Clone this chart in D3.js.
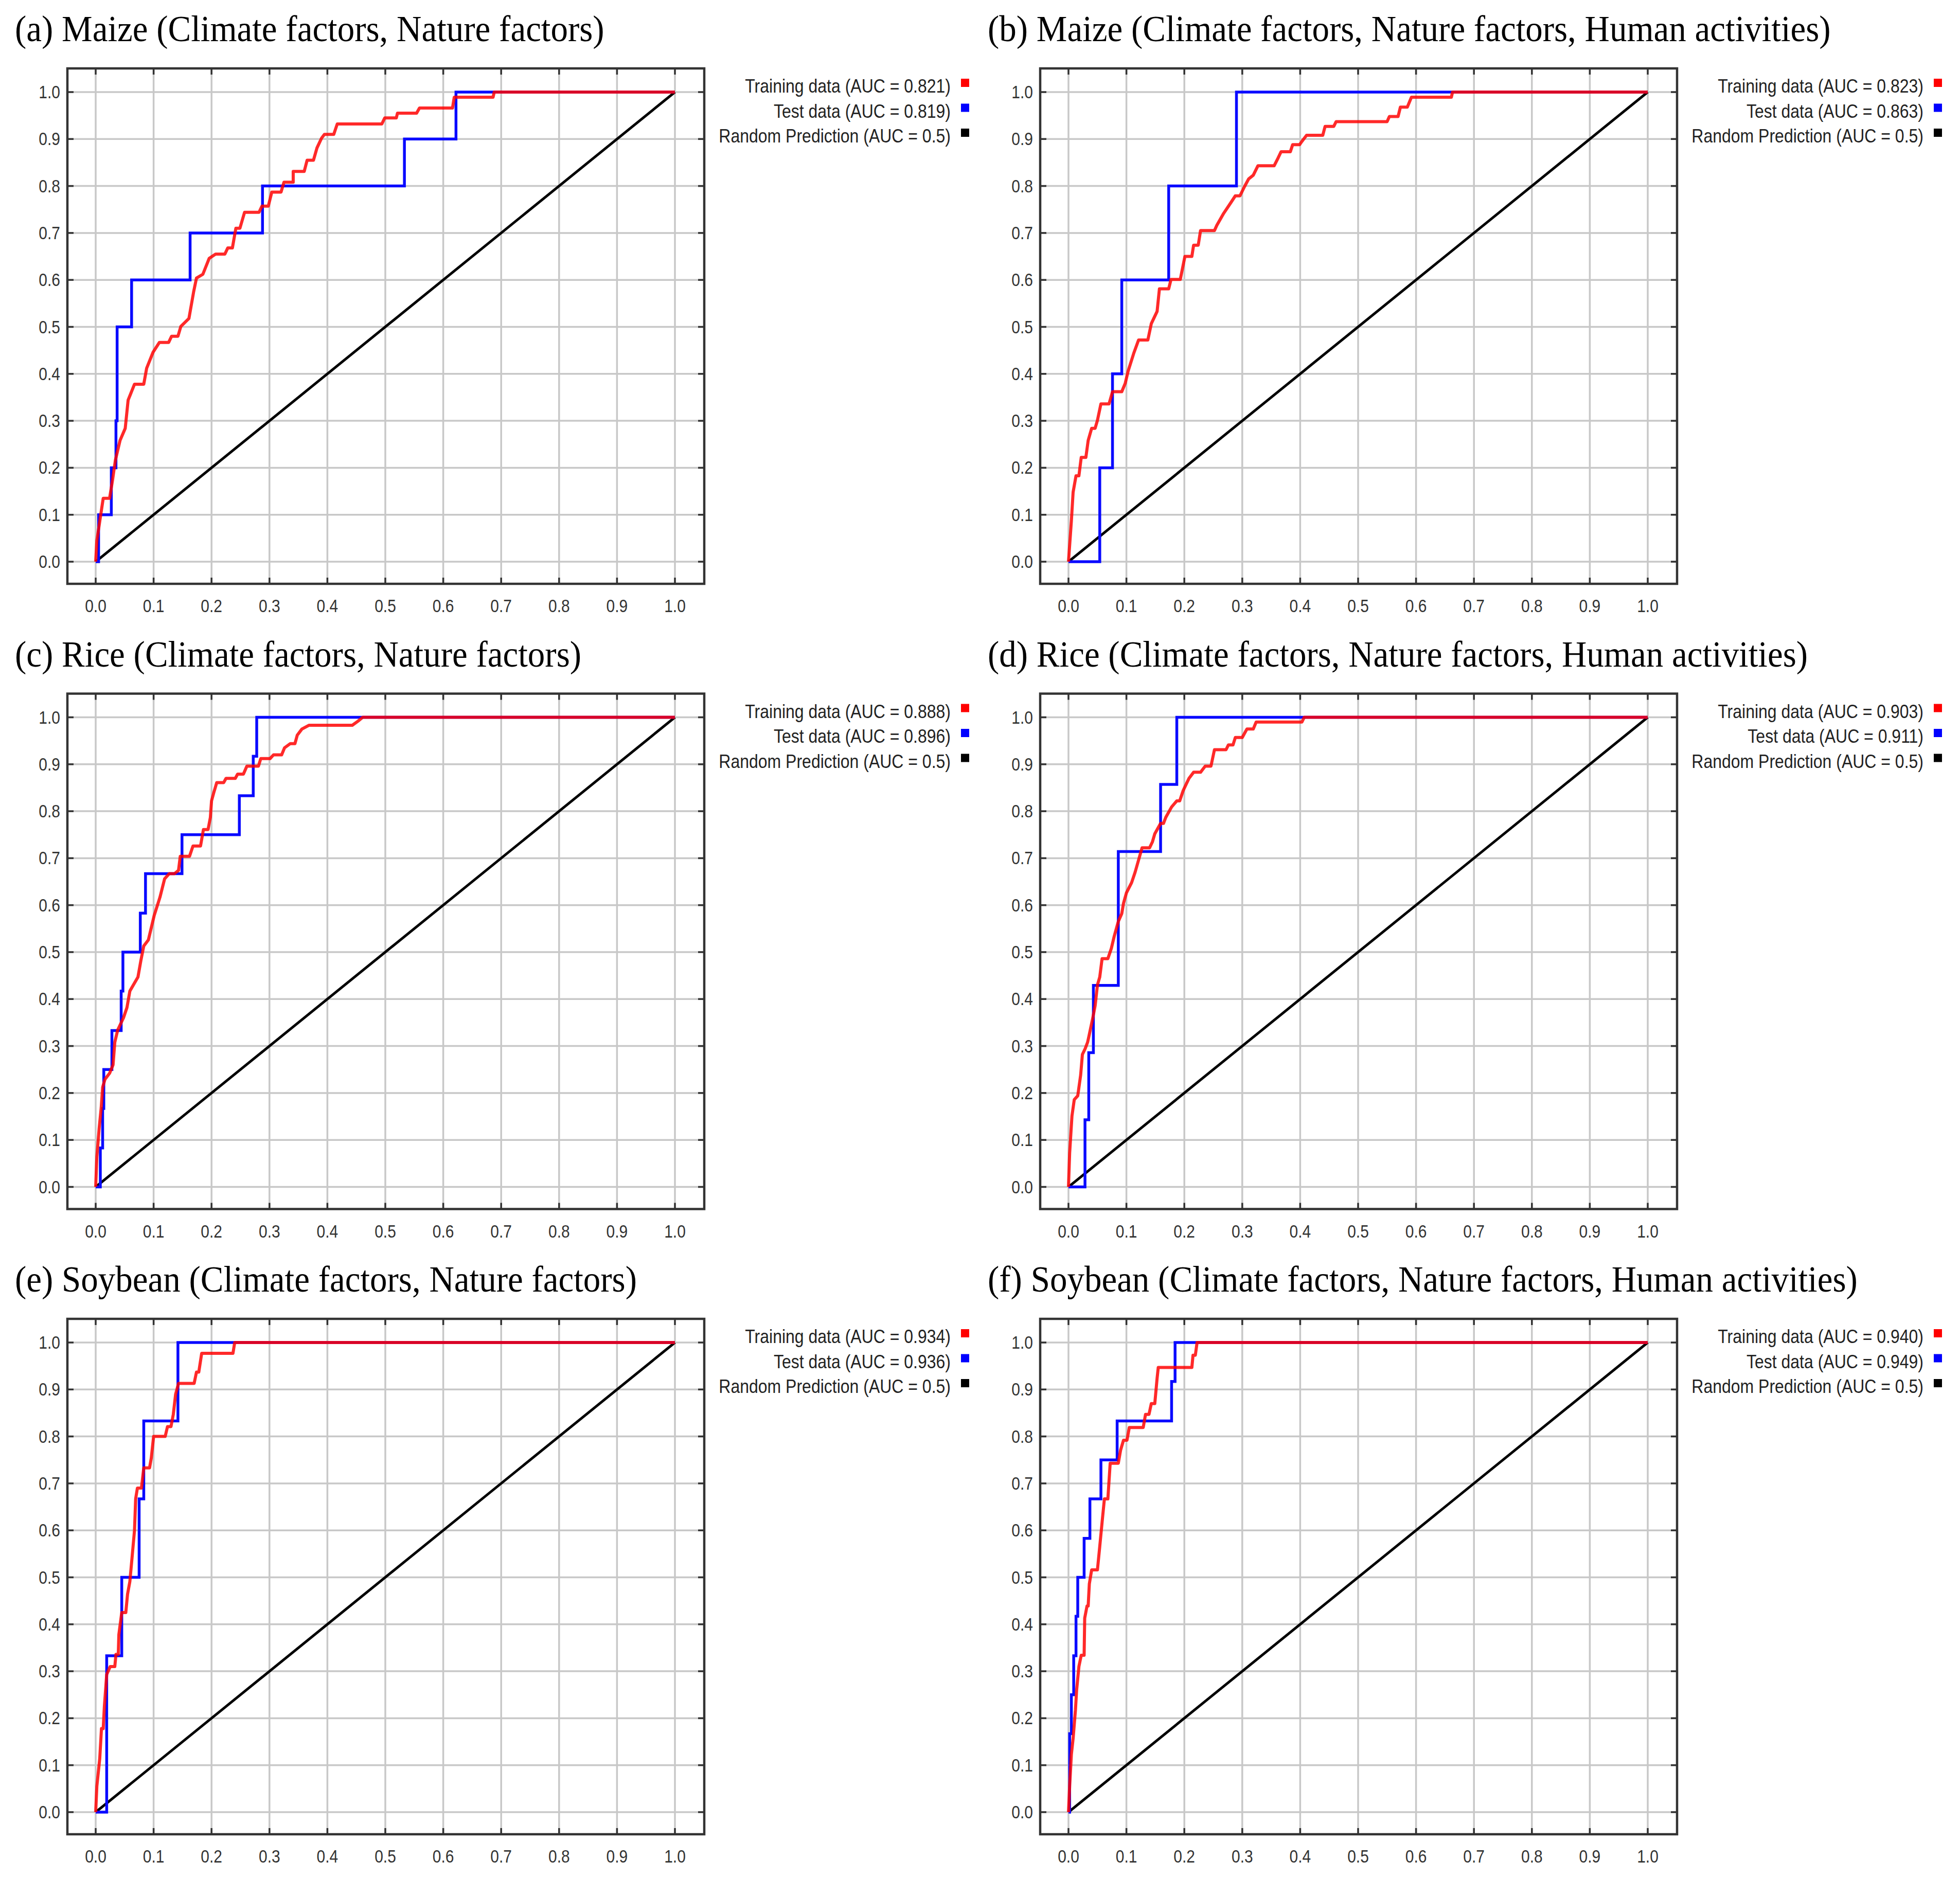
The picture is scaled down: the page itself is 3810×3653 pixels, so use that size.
<!DOCTYPE html>
<html>
<head>
<meta charset="utf-8">
<script src="https://cdn.jsdelivr.net/npm/d3@7"></script>
<style>
  html, body { margin: 0; padding: 0; background: #fff; }
  svg { display: block; }
</style>
</head>
<body>
<svg id="chart" width="3810" height="3653"></svg>
<script>
// ---------------- DATA ----------------
const panelTitles = [
  "(a) Maize (Climate factors, Nature factors)",
  "(b) Maize (Climate factors, Nature factors, Human activities)",
  "(c) Rice (Climate factors, Nature factors)",
  "(d) Rice (Climate factors, Nature factors, Human activities)",
  "(e) Soybean (Climate factors, Nature factors)",
  "(f) Soybean (Climate factors, Nature factors, Human activities)"
];
const trainingAUC = ["0.821", "0.823", "0.888", "0.903", "0.934", "0.940"];
const testAUC     = ["0.819", "0.863", "0.896", "0.911", "0.936", "0.949"];
const randomAUC   = "0.5";
const tickValues  = [0, 0.1, 0.2, 0.3, 0.4, 0.5, 0.6, 0.7, 0.8, 0.9, 1.0];
const randomLine  = [[0, 0], [1, 1]];

// Test data ROC curves (1 - specificity, sensitivity)
const testA = [[0,0],[0.005,0],[0.005,0.1],[0.027,0.1],[0.027,0.2],[0.035,0.2],[0.035,0.3],[0.037,0.3],[0.037,0.5],[0.062,0.5],[0.062,0.6],[0.163,0.6],[0.163,0.7],[0.288,0.7],[0.288,0.8],[0.533,0.8],[0.533,0.9],[0.622,0.9],[0.622,1.0],[1,1]];
const testB = [[0,0],[0.054,0],[0.054,0.2],[0.076,0.2],[0.076,0.4],[0.092,0.4],[0.092,0.6],[0.173,0.6],[0.173,0.8],[0.290,0.8],[0.290,1.0],[1,1]];
const testC = [[0,0],[0.008,0],[0.008,0.083],[0.012,0.083],[0.012,0.167],[0.014,0.167],[0.014,0.25],[0.028,0.25],[0.028,0.333],[0.044,0.333],[0.044,0.417],[0.047,0.417],[0.047,0.5],[0.077,0.5],[0.077,0.583],[0.086,0.583],[0.086,0.667],[0.149,0.667],[0.149,0.75],[0.248,0.75],[0.248,0.833],[0.272,0.833],[0.272,0.917],[0.278,0.917],[0.278,1.0],[1,1]];
const testD = [[0,0],[0.0285,0],[0.0285,0.143],[0.035,0.143],[0.035,0.286],[0.043,0.286],[0.043,0.429],[0.086,0.429],[0.086,0.714],[0.159,0.714],[0.159,0.857],[0.187,0.857],[0.187,1.0],[1,1]];
const testE = [[0,0],[0.019,0],[0.019,0.333],[0.045,0.333],[0.045,0.5],[0.075,0.5],[0.075,0.667],[0.083,0.667],[0.083,0.833],[0.142,0.833],[0.142,1.0],[1,1]];
const testF = [[0,0],[0.002,0],[0.002,0.167],[0.005,0.167],[0.005,0.25],[0.009,0.25],[0.009,0.333],[0.013,0.333],[0.013,0.417],[0.016,0.417],[0.016,0.5],[0.027,0.5],[0.027,0.583],[0.037,0.583],[0.037,0.667],[0.056,0.667],[0.056,0.75],[0.084,0.75],[0.084,0.833],[0.178,0.833],[0.178,0.917],[0.184,0.917],[0.184,1.0],[1,1]];

// Training data ROC curves
const trainA = [[0,0],[0.002,0.045],[0.013,0.135],[0.024,0.135],[0.029,0.173],[0.034,0.216],[0.042,0.258],[0.051,0.284],[0.056,0.344],[0.067,0.378],[0.083,0.378],[0.088,0.412],[0.099,0.446],[0.110,0.467],[0.126,0.467],[0.131,0.480],[0.142,0.480],[0.147,0.501],[0.161,0.518],[0.169,0.574],[0.174,0.604],[0.185,0.612],[0.196,0.646],[0.207,0.655],[0.223,0.655],[0.228,0.668],[0.236,0.668],[0.242,0.710],[0.249,0.710],[0.257,0.744],[0.282,0.744],[0.287,0.757],[0.298,0.757],[0.304,0.787],[0.320,0.787],[0.325,0.808],[0.341,0.808],[0.341,0.831],[0.360,0.831],[0.365,0.855],[0.376,0.855],[0.382,0.881],[0.390,0.902],[0.395,0.910],[0.411,0.910],[0.417,0.932],[0.494,0.932],[0.499,0.945],[0.519,0.945],[0.521,0.955],[0.554,0.955],[0.559,0.966],[0.616,0.966],[0.619,0.989],[0.686,0.989],[0.688,1.0],[1,1]];
const trainB = [[0,0],[0.005,0.087],[0.008,0.148],[0.013,0.183],[0.018,0.183],[0.022,0.222],[0.030,0.222],[0.034,0.258],[0.040,0.284],[0.046,0.284],[0.050,0.301],[0.056,0.336],[0.070,0.336],[0.076,0.362],[0.092,0.362],[0.098,0.380],[0.103,0.406],[0.113,0.445],[0.121,0.472],[0.137,0.472],[0.143,0.507],[0.153,0.533],[0.157,0.581],[0.173,0.581],[0.177,0.601],[0.193,0.601],[0.201,0.650],[0.213,0.650],[0.216,0.674],[0.224,0.674],[0.228,0.705],[0.252,0.705],[0.256,0.716],[0.268,0.742],[0.280,0.764],[0.288,0.779],[0.296,0.779],[0.304,0.799],[0.311,0.815],[0.319,0.823],[0.327,0.843],[0.355,0.843],[0.362,0.860],[0.367,0.873],[0.383,0.873],[0.387,0.888],[0.399,0.888],[0.403,0.895],[0.411,0.908],[0.439,0.908],[0.443,0.927],[0.458,0.927],[0.462,0.937],[0.550,0.937],[0.554,0.948],[0.569,0.948],[0.573,0.968],[0.585,0.968],[0.592,0.989],[0.661,0.989],[0.663,1.0],[1,1]];
const trainC = [[0,0],[0.002,0.064],[0.006,0.125],[0.0095,0.168],[0.012,0.212],[0.016,0.229],[0.024,0.242],[0.030,0.260],[0.033,0.308],[0.038,0.334],[0.048,0.360],[0.054,0.382],[0.059,0.417],[0.065,0.430],[0.073,0.447],[0.078,0.482],[0.083,0.513],[0.091,0.526],[0.101,0.578],[0.111,0.617],[0.119,0.656],[0.127,0.667],[0.136,0.667],[0.143,0.674],[0.146,0.704],[0.162,0.704],[0.168,0.726],[0.181,0.726],[0.186,0.761],[0.194,0.761],[0.198,0.787],[0.200,0.822],[0.204,0.840],[0.209,0.861],[0.221,0.861],[0.225,0.870],[0.241,0.870],[0.245,0.879],[0.255,0.879],[0.261,0.896],[0.281,0.896],[0.285,0.912],[0.301,0.912],[0.307,0.920],[0.321,0.920],[0.326,0.935],[0.336,0.944],[0.344,0.944],[0.348,0.962],[0.356,0.975],[0.368,0.983],[0.443,0.983],[0.453,0.992],[0.461,1.0],[1,1]];
const trainD = [[0,0],[0.002,0.072],[0.006,0.151],[0.010,0.186],[0.016,0.194],[0.021,0.238],[0.024,0.282],[0.029,0.295],[0.033,0.308],[0.036,0.325],[0.042,0.360],[0.046,0.386],[0.050,0.430],[0.054,0.447],[0.058,0.486],[0.068,0.486],[0.074,0.508],[0.079,0.534],[0.086,0.565],[0.092,0.582],[0.095,0.604],[0.100,0.626],[0.109,0.648],[0.115,0.670],[0.121,0.696],[0.127,0.722],[0.140,0.722],[0.145,0.735],[0.149,0.752],[0.159,0.774],[0.164,0.774],[0.168,0.787],[0.178,0.809],[0.187,0.822],[0.192,0.822],[0.198,0.844],[0.208,0.870],[0.216,0.883],[0.228,0.883],[0.236,0.896],[0.246,0.896],[0.252,0.931],[0.272,0.931],[0.276,0.941],[0.284,0.941],[0.288,0.957],[0.300,0.957],[0.308,0.975],[0.319,0.975],[0.324,0.990],[0.403,0.990],[0.407,1.0],[1,1]];
const trainE = [[0,0],[0.002,0.055],[0.007,0.114],[0.010,0.178],[0.013,0.178],[0.015,0.225],[0.019,0.293],[0.025,0.310],[0.033,0.310],[0.035,0.336],[0.039,0.336],[0.040,0.378],[0.045,0.425],[0.052,0.425],[0.055,0.464],[0.059,0.491],[0.063,0.545],[0.067,0.600],[0.069,0.667],[0.072,0.690],[0.079,0.690],[0.083,0.733],[0.093,0.733],[0.096,0.754],[0.100,0.800],[0.120,0.800],[0.124,0.821],[0.130,0.821],[0.134,0.847],[0.138,0.890],[0.143,0.913],[0.170,0.913],[0.174,0.937],[0.178,0.937],[0.183,0.977],[0.237,0.977],[0.240,1.0],[1,1]];
const trainF = [[0,0],[0.002,0.055],[0.005,0.123],[0.008,0.157],[0.012,0.217],[0.014,0.259],[0.018,0.310],[0.022,0.334],[0.027,0.334],[0.028,0.413],[0.032,0.439],[0.034,0.439],[0.036,0.486],[0.040,0.516],[0.050,0.516],[0.054,0.566],[0.058,0.617],[0.062,0.667],[0.068,0.667],[0.072,0.743],[0.086,0.743],[0.090,0.771],[0.095,0.792],[0.101,0.792],[0.105,0.819],[0.129,0.819],[0.133,0.847],[0.139,0.847],[0.143,0.870],[0.149,0.870],[0.153,0.924],[0.155,0.947],[0.213,0.947],[0.215,0.973],[0.219,0.973],[0.222,1.0],[1,1]];

const trainingSeries = [trainA, trainB, trainC, trainD, trainE, trainF];
const testSeries     = [testA, testB, testC, testD, testE, testF];

// ---------------- LAYOUT ----------------
const svg = d3.select("#chart");
const colStep = 1891, rowStep = 1215.5;
const frame = { left: 131, top: 133, right: 1369, bottom: 1135 };
const plotX = [186, 1312], plotY = [1092, 179];
const TXT_SY = 1.14; // vertical stretch of text in reference

function stretchedText(g, x, y, str, opts) {
  return g.append("text")
    .attr("transform", `translate(${x},${y}) scale(1,${opts.sy || TXT_SY})`)
    .attr("text-anchor", opts.anchor || "start")
    .attr("font-family", opts.family || "'Liberation Sans', Arial, sans-serif")
    .attr("font-size", opts.size)
    .attr("fill", opts.fill || "#222")
    .text(str);
}

panelTitles.forEach((title, i) => {
  const col = i % 2, row = Math.floor(i / 2);
  const g = svg.append("g").attr("transform", `translate(${col * colStep},${row * rowStep})`);
  const x = d3.scaleLinear().domain([0, 1]).range(plotX);
  const y = d3.scaleLinear().domain([0, 1]).range(plotY);

  // title
  stretchedText(g, 29, 80, title, { size: 67, sy: 1.08, family: "'Liberation Serif', 'Times New Roman', serif", fill: "#000" });

  // grid
  const grid = g.append("g");
  grid.selectAll("line.v").data(tickValues).join("line")
    .attr("x1", d => x(d)).attr("x2", d => x(d))
    .attr("y1", frame.top).attr("y2", frame.bottom)
    .attr("stroke", "#c8c8c8").attr("stroke-width", 3.5);
  grid.selectAll("line.h").data(tickValues).join("line")
    .attr("y1", d => y(d)).attr("y2", d => y(d))
    .attr("x1", frame.left).attr("x2", frame.right)
    .attr("stroke", "#c8c8c8").attr("stroke-width", 3.5);

  // tick marks (inside frame, all four sides)
  const tk = 12;
  const ticks = g.append("g").attr("stroke", "#333").attr("stroke-width", 3.5);
  tickValues.forEach(v => {
    ticks.append("line").attr("x1", x(v)).attr("x2", x(v)).attr("y1", frame.top).attr("y2", frame.top + tk);
    ticks.append("line").attr("x1", x(v)).attr("x2", x(v)).attr("y1", frame.bottom).attr("y2", frame.bottom - tk);
    ticks.append("line").attr("y1", y(v)).attr("y2", y(v)).attr("x1", frame.left).attr("x2", frame.left + tk);
    ticks.append("line").attr("y1", y(v)).attr("y2", y(v)).attr("x1", frame.right).attr("x2", frame.right - tk);
  });

  // frame
  g.append("rect")
    .attr("x", frame.left).attr("y", frame.top)
    .attr("width", frame.right - frame.left).attr("height", frame.bottom - frame.top)
    .attr("fill", "none").attr("stroke", "#333").attr("stroke-width", 4.5);

  // tick labels
  const fmt = d3.format(".1f");
  tickValues.forEach(v => {
    stretchedText(g, x(v), 1190, fmt(v), { size: 30, anchor: "middle", fill: "#333" });
    stretchedText(g, 117, y(v) + 12, fmt(v), { size: 30, anchor: "end", fill: "#333" });
  });

  // curves
  const line = d3.line().x(d => x(d[0])).y(d => y(d[1]));
  g.append("path").datum(randomLine).attr("d", line)
    .attr("fill", "none").attr("stroke", "#000").attr("stroke-width", 5);
  g.append("path").datum(testSeries[i]).attr("d", line)
    .attr("fill", "none").attr("stroke", "#0a0aff").attr("stroke-width", 5.5)
    .attr("stroke-linejoin", "miter");
  g.append("path").datum(trainingSeries[i]).attr("d", line)
    .attr("fill", "none").attr("stroke", "#ff0000").attr("stroke-opacity", 0.84).attr("stroke-width", 6)
    .attr("stroke-linejoin", "round");

  // legend
  const legend = [
    { label: `Training data (AUC = ${trainingAUC[i]})`, color: "#ff0000" },
    { label: `Test data (AUC = ${testAUC[i]})`, color: "#0000ff" },
    { label: `Random Prediction (AUC = ${randomAUC})`, color: "#000000" }
  ];
  legend.forEach((d, k) => {
    const by = 180 + k * 48.5;
    stretchedText(g, 1848, by, d.label, { size: 32, anchor: "end", fill: "#222" });
    g.append("rect").attr("x", 1868).attr("y", by - 27).attr("width", 16).attr("height", 16).attr("fill", d.color);
  });
});
</script>
</body>
</html>
